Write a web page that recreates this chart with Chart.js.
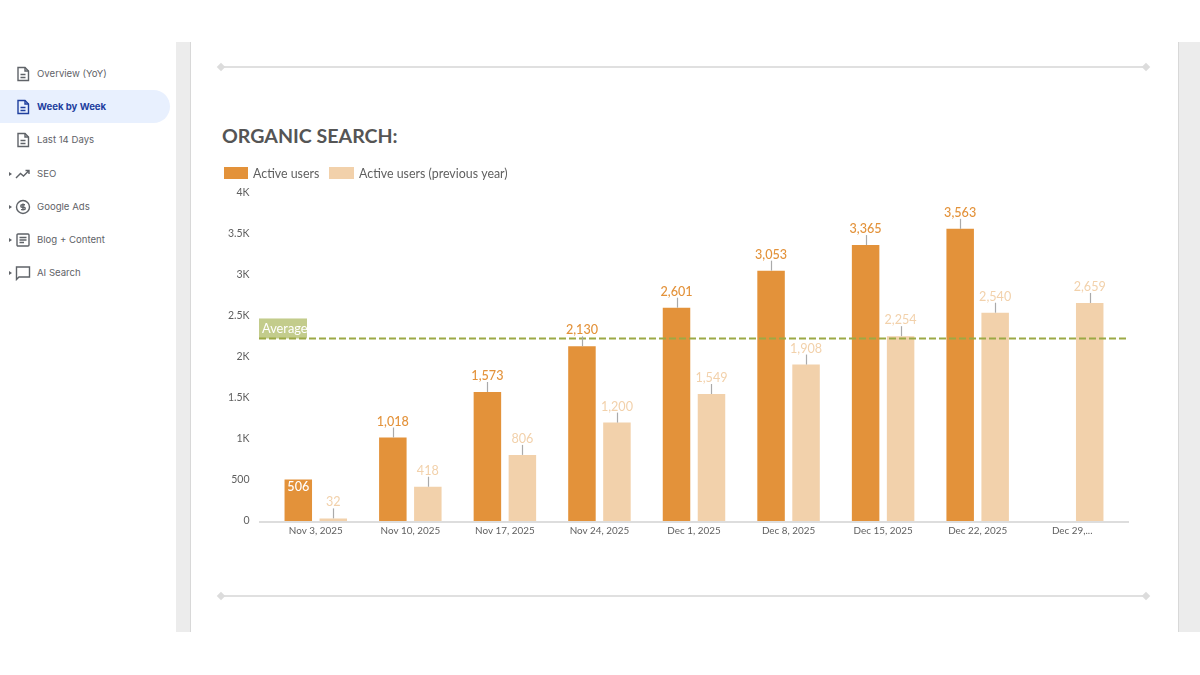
<!DOCTYPE html>
<html>
<head>
<meta charset="utf-8">
<script src="https://cdn.jsdelivr.net/npm/chart.js@4"></script>
<style>
  html, body { margin: 0; padding: 0; width: 1200px; height: 675px; overflow: hidden; background: #fff; }
  body { position: relative; font-family: Inter, Roboto, sans-serif; }
  .band { position: absolute; top: 42px; height: 590px; background: #ececec; }
  .divider { position: absolute; left: 221px; width: 925px; height: 2px; background: #e0e0e0; }
  .divider:before, .divider:after { content: ''; position: absolute; top: -2px; width: 6px; height: 6px; background: #dcdcdc; transform: rotate(45deg); }
  .divider:before { left: -3px; }
  .divider:after { right: -3px; }
  #nav { position: absolute; left: 0; top: 57px; width: 170px; }
  .item { position: absolute; left: 0; width: 170px; height: 33px; box-sizing: border-box; font-size: 9.6px; line-height: 34px; color: #5f6368; }
  .item span { position: absolute; left: 37px; white-space: nowrap; }
  .item svg { position: absolute; left: 15px; top: 9px; width: 16px; height: 16px; fill: none; stroke: #5f6368; stroke-width: 1.4; }
  .item.on { background: #e8f0fe; border-radius: 0 17px 17px 0; color: #1f3f9e; font-weight: 700; }
  .item.on svg { stroke: #1f3f9e; }
  .arrow { position: absolute; left: 9px; top: 15px; width: 0; height: 0; border-left: 3px solid #5f6368; border-top: 2px solid transparent; border-bottom: 2px solid transparent; }
  #title { position: absolute; left: 222px; top: 124px; font: 700 19.6px Lato, sans-serif; color: #555555; white-space: nowrap; }
  #box { position: absolute; left: 0; top: 0; width: 1200px; height: 675px; }
</style>
</head>
<body>
<div class="band" style="left:176px;width:14px;border-right:1px solid #d8d8d8"></div>
<div class="band" style="left:1178px;width:22px;border-left:1px solid #d8d8d8"></div>
<div class="divider" style="top:66px"></div>
<div class="divider" style="top:595px"></div>
<div id="nav"></div>
<div id="title">ORGANIC SEARCH:</div>
<div id="box"><canvas id="chart" width="1200" height="675"></canvas></div>
<script>
const weeks = ['Nov 3, 2025', 'Nov 10, 2025', 'Nov 17, 2025', 'Nov 24, 2025', 'Dec 1, 2025', 'Dec 8, 2025', 'Dec 15, 2025', 'Dec 22, 2025', 'Dec 29,...'];
const activeUsers = [506, 1018, 1573, 2130, 2601, 3053, 3365, 3563, null];
const previousYear = [32, 418, 806, 1200, 1549, 1908, 2254, 2540, 2659];
const averageValue = 2226;
const yTicks = [0, 500, 1000, 1500, 2000, 2500, 3000, 3500, 4000];
const yTickLabels = ['0', '500', '1K', '1.5K', '2K', '2.5K', '3K', '3.5K', '4K'];
const navLabels = ['Overview (YoY)', 'Week by Week', 'Last 14 Days', 'SEO', 'Google Ads', 'Blog + Content', 'AI Search'];

const ORANGE = '#e3923a';
const PEACH = '#f2d1ab';
const OLIVE = '#9ca945';

// sidebar
const docIcon = '<path d="M3 1.5h7l3.5 3.5v9.5H3z"/><path d="M10 1.5V5h3.5M5.5 8.5h5M5.5 11.5h5"/>';
const navIcons = [
  docIcon, docIcon, docIcon,
  '<path d="M1 12l4.5-4.5 3 2.5 5.5-5.5M10.5 4.5h3.5v3.5"/>',
  '<circle cx="8" cy="8" r="6.5"/><path d="M10 5.8H7a1.1 1.1 0 0 0 0 2.4h2a1.1 1.1 0 0 1 0 2.4H6M8 4.5v7"/>',
  '<rect x="2" y="2" width="12" height="12" rx="1"/><path d="M4.5 5.5h7M4.5 8h7M4.5 10.5h4.5"/>',
  '<path d="M1.5 2h13v10H4l-2.5 2.5z"/>'
];
document.getElementById('nav').innerHTML = navLabels.map((n, i) =>
  '<div class="item' + (i === 1 ? ' on' : '') + '" style="top:' + (i * 33.2) + 'px">' +
  (i > 2 ? '<i class="arrow"></i>' : '') +
  '<svg viewBox="0 0 16 16">' + navIcons[i] + '</svg><span>' + n + '</span></div>').join('');

// axis line wider than the plot, average line, legend and value labels with leaders
const overlay = {
  id: 'overlay',
  beforeDatasetsDraw(chart) {
    const { ctx, scales: { x, y } } = chart;
    ctx.fillStyle = '#dddddd';
    ctx.fillRect(x.left - 9.5, y.getPixelForValue(0), x.width + 19, 2);
  },
  afterDatasetsDraw(chart) {
    const { ctx, scales: { x, y } } = chart;
    const left = x.left - 9.5, right = x.right + 9.5;
    ctx.save();

    const avgY = y.getPixelForValue(averageValue);
    ctx.fillStyle = 'rgba(163,176,78,0.65)';
    ctx.fillRect(left, avgY - 20, 48, 20);
    ctx.strokeStyle = OLIVE;
    ctx.lineWidth = 2;
    ctx.setLineDash([7, 3]);
    ctx.beginPath();
    ctx.moveTo(left, avgY);
    ctx.lineTo(right, avgY);
    ctx.stroke();
    ctx.setLineDash([]);
    ctx.font = '12.8px Lato';
    ctx.fillStyle = '#ffffff';
    ctx.textAlign = 'left';
    ctx.textBaseline = 'middle';
    ctx.fillText('Average', left + 3, avgY - 10);

    ctx.textAlign = 'center';
    chart.data.datasets.forEach((ds, di) => {
      chart.getDatasetMeta(di).data.forEach((bar, i) => {
        const v = ds.data[i];
        if (v == null) return;
        const text = v.toLocaleString('en-US');
        ctx.font = (di === 0 ? '500 ' : '') + '12.6px Lato';
        if (v === 506) {
          ctx.fillStyle = '#ffffff';
          ctx.fillText(text, bar.x, bar.y + 7);
          return;
        }
        ctx.strokeStyle = '#aaaaaa';
        ctx.lineWidth = 1.2;
        ctx.beginPath();
        ctx.moveTo(Math.round(bar.x) + 0.5, bar.y);
        ctx.lineTo(Math.round(bar.x) + 0.5, bar.y - 10);
        ctx.stroke();
        ctx.fillStyle = ds.backgroundColor;
        ctx.fillText(text, bar.x, bar.y - 16);
      });
    });

    // legend
    ctx.textBaseline = 'middle';
    ctx.textAlign = 'left';
    ctx.font = '12.4px Lato';
    ctx.fillStyle = ORANGE;
    ctx.fillRect(224, 167, 24, 12);
    ctx.fillStyle = PEACH;
    ctx.fillRect(329, 167, 25, 12);
    ctx.fillStyle = '#5f5f5f';
    ctx.fillText(chart.data.datasets[0].label, 253, 173.5);
    ctx.fillText(chart.data.datasets[1].label, 359, 173.5);
    ctx.restore();
  }
};

new Chart(document.getElementById('chart'), {
  type: 'bar',
  data: {
    labels: weeks,
    datasets: [
      { label: 'Active users', data: activeUsers, backgroundColor: ORANGE },
      { label: 'Active users (previous year)', data: previousYear, backgroundColor: PEACH }
    ]
  },
  options: {
    responsive: false,
    animation: false,
    devicePixelRatio: 1,
    layout: { padding: { left: 208.5, right: 80.5, top: 193, bottom: 124 } },
    datasets: { bar: { categoryPercentage: 0.74, barPercentage: 0.786 } },
    plugins: { legend: { display: false }, tooltip: { enabled: false } },
    scales: {
      x: {
        afterFit(scale) { scale.height = 30; },
        grid: { display: false },
        border: { display: false },
        ticks: { color: '#5f5f5f', font: { family: 'Lato', size: 9.9 }, maxRotation: 0, autoSkip: false, padding: -4.5 }
      },
      y: {
        min: 0,
        max: 4000,
        position: 'left',
        afterFit(scale) { scale.width = 60; },
        afterBuildTicks(scale) { scale.ticks = yTicks.map(value => ({ value })); },
        grid: { display: false },
        border: { display: false },
        ticks: {
          color: '#5f5f5f',
          font: { family: 'Lato', size: 10.5 },
          padding: 11,
          callback: (v) => yTickLabels[yTicks.indexOf(v)]
        }
      }
    }
  },
  plugins: [overlay]
});
</script>
</body>
</html>
